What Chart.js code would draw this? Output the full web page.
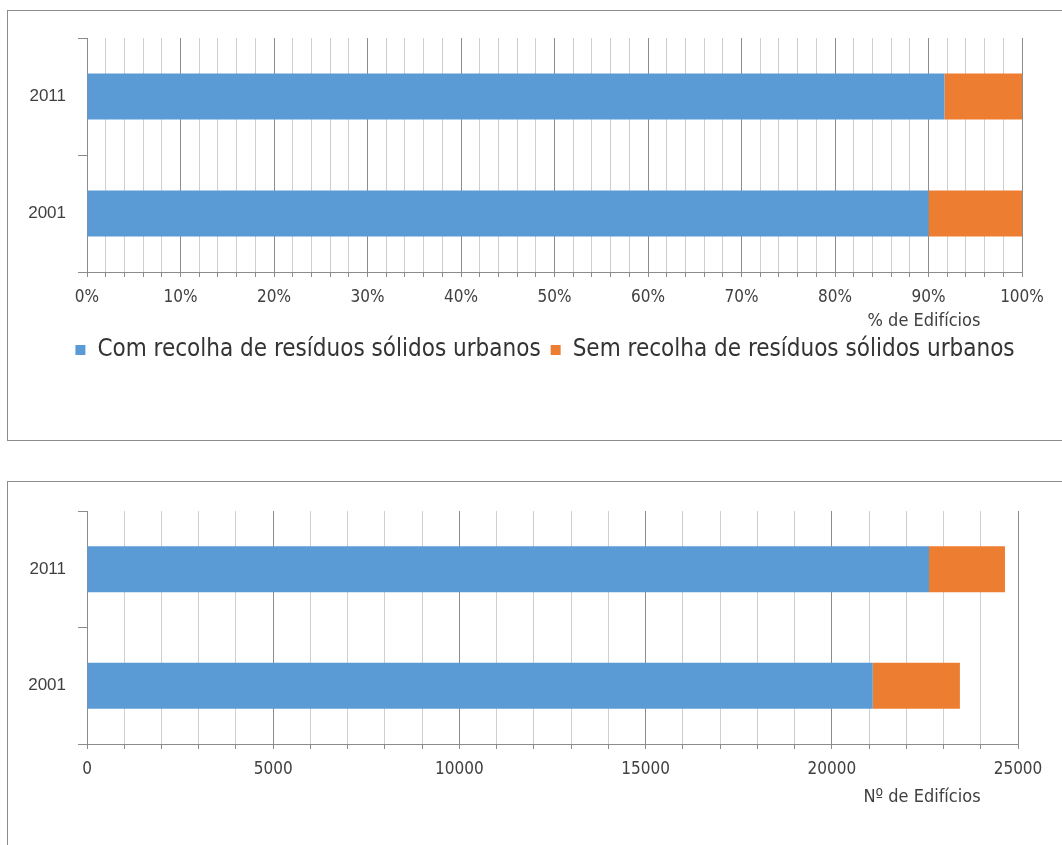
<!DOCTYPE html>
<html>
<head>
<meta charset="utf-8">
<script src="https://cdn.jsdelivr.net/npm/chart.js@4.4.1/dist/chart.umd.min.js"></script>
<style>
  html, body { margin: 0; padding: 0; background: #ffffff; overflow: hidden; }
  body { width: 1062px; height: 845px; position: relative; }
  .panel {
    position: absolute; left: 7px; width: 1060px;
    border: 1px solid #8c8c8c; box-sizing: border-box; background: #fff;
  }
  #panelPct { top: 10px; height: 431px; }
  #panelNum { top: 481px; height: 400px; }
  .panel canvas { display: block; }
</style>
</head>
<body>
<div class="panel" id="panelPct"><canvas id="chartPct" width="1058" height="429"></canvas></div>
<div class="panel" id="panelNum"><canvas id="chartNum" width="1058" height="398"></canvas></div>
<script>
// Census years (top row first)
const years = ['2011', '2001'];

// Series names
const seriesNames = [
  'Com recolha de resíduos sólidos urbanos',
  'Sem recolha de resíduos sólidos urbanos'
];

// Share of buildings (%)
const pctCom = [91.7, 90.0];
const pctSem = [8.3, 10.0];

// Number of buildings
const numCom = [22610, 21100];
const numSem = [2040, 2340];

// Axis titles
const pctAxisTitle = '% de Edifícios';
const numAxisTitle = 'Nº de Edifícios';

const BLUE = '#5B9BD5';
const ORANGE = '#ED7D31';
const NARROW = "'DejaVu Sans Condensed', 'Liberation Sans Narrow', 'Open Sans', sans-serif";
const TICK_FONT = { family: NARROW, size: 17 };
const YEAR_FONT = { family: "'Liberation Sans', Arial, sans-serif", size: 17 };
const TEXT_COLOR = '#404040';

// Draws an axis caption under the tick labels, centred at a point near the axis end
const axisCaption = {
  id: 'axisCaption',
  afterDraw(chart, args, opts) {
    const { ctx, chartArea } = chart;
    ctx.save();
    ctx.font = `18px ${NARROW}`;
    ctx.fillStyle = TEXT_COLOR;
    ctx.textAlign = 'center';
    ctx.textBaseline = 'middle';
    ctx.fillText(opts.text, chartArea.right - opts.dx, chartArea.bottom + opts.dy);
    ctx.restore();
  }
};

// Nudges the legend sideways after layout so it sits centred under the whole panel
const legendShift = {
  id: 'legendShift',
  afterLayout(chart, args, opts) {
    const lg = chart.legend;
    if (lg && lg.options.display) {
      lg.left += opts.dx;
      lg.right += opts.dx;
    }
  }
};

function gridColor(major) {
  return (c) => (c.tick && c.tick.value % major === 0) ? '#8c8c8c' : '#cfcfcf';
}

function makeOptions(cfg) {
  return {
    indexAxis: 'y',
    responsive: false,
    animation: false,
    layout: { padding: cfg.padding },
    datasets: { bar: { categoryPercentage: 1, barPercentage: 0.393 } },
    scales: {
      x: {
        stacked: true,
        min: 0,
        max: cfg.max,
        afterFit(scale) { scale.height = cfg.xHeight; },
        ticks: {
          stepSize: cfg.step,
          autoSkip: false,
          maxRotation: 0,
          padding: 10,
          color: TEXT_COLOR,
          font: TICK_FONT,
          callback: cfg.tickLabel
        },
        grid: {
          color: gridColor(cfg.major),
          lineWidth: 1,
          tickLength: 5,
          tickColor: '#8c8c8c'
        },
        border: { color: '#8c8c8c', width: 1 }
      },
      y: {
        stacked: true,
        afterFit(scale) { scale.width = 79; },
        ticks: { color: TEXT_COLOR, font: YEAR_FONT, padding: 12 },
        grid: {
          drawOnChartArea: false,
          offset: true,
          tickLength: 9,
          tickColor: '#8c8c8c'
        },
        border: { color: '#8c8c8c', width: 1 }
      }
    },
    plugins: {
      tooltip: { enabled: false },
      legend: cfg.legend,
      legendShift: { dx: 30 },
      axisCaption: cfg.caption
    }
  };
}

function datasets(com, sem) {
  return [
    { label: seriesNames[0], data: com, backgroundColor: BLUE, borderWidth: 0 },
    { label: seriesNames[1], data: sem, backgroundColor: ORANGE, borderWidth: 0 }
  ];
}

// Percentage chart with legend
new Chart(document.getElementById('chartPct'), {
  type: 'bar',
  data: { labels: years, datasets: datasets(pctCom, pctSem) },
  options: makeOptions({
    max: 100, step: 2, major: 10,
    tickLabel: (v) => (v % 10 === 0 ? v + '%' : ''),
    padding: { top: 27, right: 44, left: 0, bottom: 68 },
    xHeight: 56,
    caption: { text: pctAxisTitle, dx: 98, dy: 49 },
    legend: {
      display: true,
      position: 'bottom',
      labels: {
        boxWidth: 10, boxHeight: 10, padding: 10,
        color: '#333333',
        font: { family: NARROW, size: 24 }
      }
    }
  }),
  plugins: [axisCaption, legendShift]
});

// Building count chart
new Chart(document.getElementById('chartNum'), {
  type: 'bar',
  data: { labels: years, datasets: datasets(numCom, numSem) },
  options: makeOptions({
    max: 25000, step: 1000, major: 5000,
    tickLabel: (v) => (v % 5000 === 0 ? String(v) : ''),
    padding: { top: 29, right: 48, left: 0, bottom: 76 },
    xHeight: 60,
    caption: { text: numAxisTitle, dx: 96, dy: 53 },
    legend: { display: false }
  }),
  plugins: [axisCaption, legendShift]
});
</script>
</body>
</html>
